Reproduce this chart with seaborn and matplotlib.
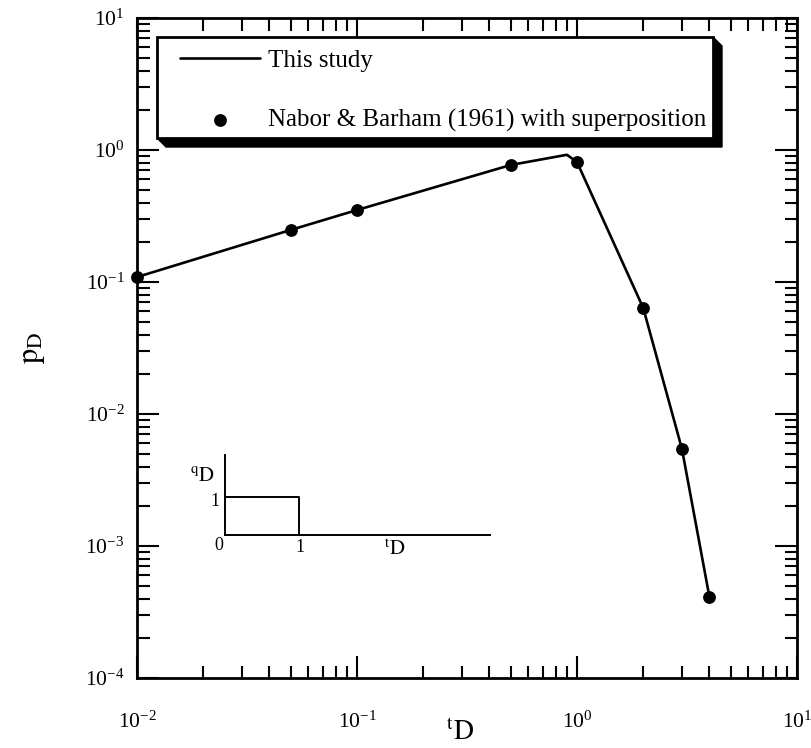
import numpy as np
import pandas as pd
import seaborn as sns
import matplotlib
matplotlib.use("Agg")
import matplotlib.pyplot as plt
from matplotlib.patches import Rectangle, Polygon
from matplotlib.transforms import IdentityTransform

# ---- data ----
t_line = [0.01, 0.05, 0.1, 0.5, 0.9, 1.0, 2.0, 3.0, 4.0]
p_line = [0.109, 0.248, 0.351, 0.77, 0.92, 0.81, 0.0636, 0.00543, 0.00041]
t_pts = [0.01, 0.05, 0.1, 0.5, 1.0, 2.0, 3.0, 4.0]
p_pts = [0.109, 0.248, 0.351, 0.77, 0.81, 0.0636, 0.00543, 0.00041]
inset_t = [0, 1, 1]
inset_q = [1, 1, 0]
line_label = "This study"
pts_label = "Nabor & Barham (1961) with superposition"

sns.set_theme(style="white")
plt.rcParams["font.family"] = ["Liberation Serif", "DejaVu Serif"]
plt.rcParams["mathtext.fontset"] = "stix"
for k in ["text.color", "axes.labelcolor", "xtick.color", "ytick.color"]:
    plt.rcParams[k] = "black"

W, H = 811, 748
fig = plt.figure(figsize=(W / 100, H / 100), dpi=100)
ax = fig.add_axes([137 / W, 1 - 678 / H, 660 / W, 660 / H])

sns.lineplot(x=t_line, y=p_line, ax=ax, color="black", lw=1.9,
             sort=False, estimator=None, label=line_label)
sns.scatterplot(x=t_pts, y=p_pts, ax=ax, color="black", s=85,
                edgecolor="black", linewidth=0, label=pts_label, zorder=3,
                clip_on=False)
ax.set_xscale("log")
ax.set_yscale("log")
ax.set_xlim(1e-2, 1e1)
ax.set_ylim(1e-4, 1e1)

for s in ax.spines.values():
    s.set_color("black")
    s.set_linewidth(2.0)

ax.tick_params(which="both", direction="in", top=True, right=True,
               bottom=True, left=True, color="black", width=1.5)
ax.tick_params(which="major", length=16, labelsize=15.5)
ax.tick_params(which="minor", length=9)
ax.tick_params(axis="x", which="major", pad=24)
ax.tick_params(axis="y", which="major", pad=9)
ax.xaxis.set_minor_locator(matplotlib.ticker.LogLocator(base=10, subs=np.arange(2, 10)))
ax.yaxis.set_minor_locator(matplotlib.ticker.LogLocator(base=10, subs=np.arange(2, 10)))
ax.xaxis.set_minor_formatter(matplotlib.ticker.NullFormatter())
ax.yaxis.set_minor_formatter(matplotlib.ticker.NullFormatter())

ax.set_xlabel(r"$^{\mathrm{t}}\mathrm{D}$", fontsize=20)
ax.set_ylabel(r"$\mathrm{p_D}$", fontsize=22)
ax.xaxis.set_label_coords((460 - 137) / 660, (678 - 720) / 660)
ax.yaxis.set_label_coords((47 - 137) / 660, 0.5)

# legend (frame drawn separately with an extruded shadow)
fs = 18
leg = ax.legend(loc="upper left",
                bbox_to_anchor=((180 - 137) / 660, (678 - 49) / 660),
                borderaxespad=0, borderpad=0, frameon=False, fontsize=fs,
                handlelength=3.2, handletextpad=0.32, labelspacing=1.48)
leg.set_zorder(6)

x0, x1 = 157, 713
y0, y1 = H - 138, H - 37   # display coords (origin bottom-left)
d = 9
shadow = Polygon([(x1, y1), (x1 + d, y1 - d), (x1 + d, y0 - d), (x0 + d, y0 - d),
                  (x0, y0), (x1, y0)], closed=True, transform=IdentityTransform(),
                 facecolor="black", edgecolor="black", lw=1, zorder=5.4, clip_on=False)
frame = Rectangle((x0, y0), x1 - x0, y1 - y0, transform=IdentityTransform(),
                  facecolor="white", edgecolor="black", lw=2.0, zorder=5.5, clip_on=False)
ax.add_artist(shadow)
ax.add_artist(frame)

# inset step diagram
ax_in = ax.inset_axes([(225 - 137) / 660, (678 - 535) / 660, 265 / 660, 80 / 660])
ax_in.patch.set_visible(False)
sns.lineplot(x=inset_t, y=inset_q, ax=ax_in, color="black", lw=1.4,
             sort=False, estimator=None)
ax_in.set_xlim(0, 3.58)
ax_in.set_ylim(0, 2.1)
ax_in.set_xticks([])
ax_in.set_yticks([])
ax_in.set_xlabel("")
ax_in.set_ylabel("")
for k in ["top", "right"]:
    ax_in.spines[k].set_visible(False)
for k in ["left", "bottom"]:
    ax_in.spines[k].set_color("black")
    ax_in.spines[k].set_linewidth(1.4)
ax_in.text(-0.09, -0.28, "0", ha="center", va="center", fontsize=13)
ax_in.text(1.01, -0.32, "1", ha="center", va="center", fontsize=13)
ax_in.text(-0.14, 0.87, "1", ha="center", va="center", fontsize=13)
ax_in.text(-0.3, 1.5, r"$^{\mathrm{q}}\mathrm{D}$", ha="center", va="center", fontsize=15)
ax_in.text(2.3, -0.4, r"$^{\mathrm{t}}\mathrm{D}$", ha="center", va="center", fontsize=15)

fig.savefig("out.png", dpi=100, facecolor="white")
